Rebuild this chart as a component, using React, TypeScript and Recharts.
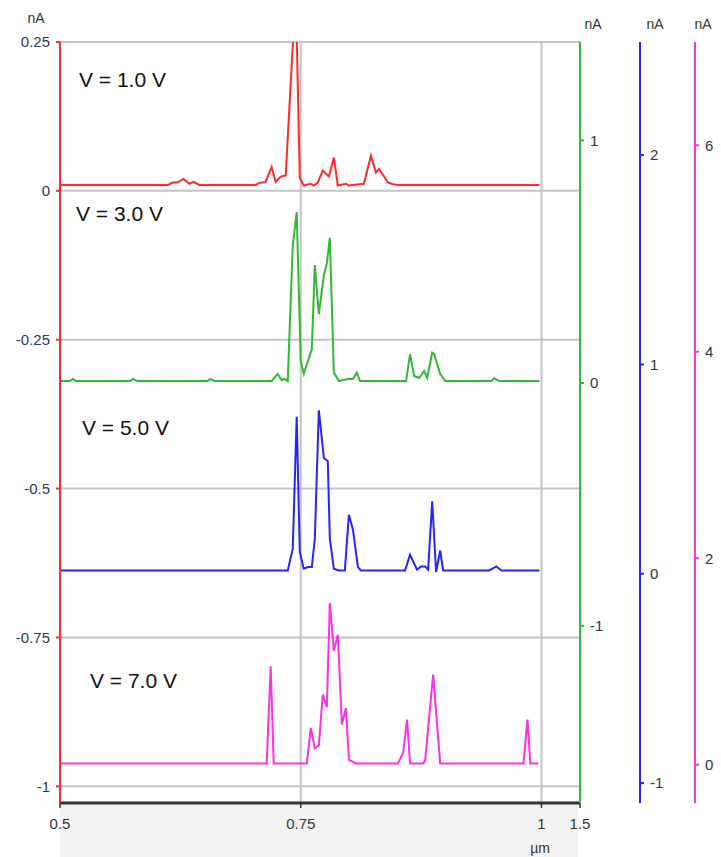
import { LineChart, Line, XAxis, YAxis, CartesianGrid } from "recharts";

// x axis (µm); last tick is the broken-axis end labelled 1.5
const xTicks = [0.5, 0.75, 1, 1.04];
const xTickLabels = ["0.5", "0.75", "1", "1.5"];

const redTicks = [0.25, 0, -0.25, -0.5, -0.75, -1];
const greenTicks = [-1, 0, 1];
const blueTicks = [-1, 0, 1, 2];
const magentaTicks = [0, 2, 4, 6];

const voltageLabels = ["V = 1.0 V", "V = 3.0 V", "V = 5.0 V", "V = 7.0 V"];

// [position µm, current nA]
const red1V: [number, number][] = [
  [0.5, 0.01], [0.6125, 0.01], [0.6167, 0.014], [0.6219, 0.014], [0.6281, 0.02],
  [0.6344, 0.012], [0.6385, 0.015], [0.6448, 0.01], [0.7031, 0.01], [0.7063, 0.013],
  [0.7135, 0.015], [0.7198, 0.04], [0.724, 0.015], [0.7292, 0.024], [0.7344, 0.026],
  [0.7448, 0.337], [0.749, 0.022], [0.7531, 0.009], [0.7604, 0.012], [0.7635, 0.009],
  [0.7677, 0.014], [0.7729, 0.034], [0.7792, 0.024], [0.7844, 0.056], [0.7885, 0.009],
  [0.7969, 0.012], [0.8, 0.009], [0.8156, 0.012], [0.8229, 0.059], [0.8281, 0.031],
  [0.8313, 0.037], [0.8406, 0.014], [0.8458, 0.011], [0.851, 0.01], [0.9979, 0.01],
];

const green3V: [number, number][] = [
  [0.5, 0.008], [0.5104, 0.008], [0.5135, 0.017], [0.5167, 0.008], [0.5729, 0.008],
  [0.576, 0.017], [0.5802, 0.008], [0.6531, 0.008], [0.6563, 0.017], [0.6604, 0.008],
  [0.7198, 0.008], [0.726, 0.038], [0.7302, 0.012], [0.7333, 0.017], [0.7365, 0.008],
  [0.7417, 0.566], [0.7458, 0.704], [0.75, 0.091], [0.7531, 0.038], [0.7615, 0.14],
  [0.7646, 0.486], [0.7688, 0.284], [0.774, 0.445], [0.7771, 0.493], [0.7802, 0.598],
  [0.7844, 0.043], [0.7896, 0.008], [0.799, 0.017], [0.8042, 0.017], [0.8083, 0.043],
  [0.8115, 0.008], [0.8594, 0.008], [0.8635, 0.119], [0.8677, 0.029], [0.8729, 0.021],
  [0.8781, 0.05], [0.8813, 0.021], [0.8865, 0.125], [0.8885, 0.12], [0.8948, 0.038],
  [0.9, 0.008], [0.9479, 0.008], [0.951, 0.02], [0.9563, 0.008], [0.9979, 0.008],
];

const blue5V: [number, number][] = [
  [0.5, 0.016], [0.7365, 0.016], [0.7417, 0.12], [0.7458, 0.75], [0.749, 0.104],
  [0.7531, 0.024], [0.7573, 0.032], [0.7615, 0.032], [0.7646, 0.167], [0.7688, 0.781],
  [0.774, 0.553], [0.7781, 0.537], [0.7802, 0.167], [0.7844, 0.024], [0.7896, 0.016],
  [0.7958, 0.016], [0.8, 0.282], [0.8042, 0.212], [0.8094, 0.032], [0.8125, 0.016],
  [0.8583, 0.016], [0.8635, 0.091], [0.8708, 0.02], [0.875, 0.035], [0.8792, 0.035],
  [0.8823, 0.02], [0.8865, 0.346], [0.8906, 0.008], [0.8948, 0.111], [0.8979, 0.016],
  [0.9458, 0.016], [0.9531, 0.035], [0.9583, 0.016], [0.9979, 0.016],
];

const magenta7V: [number, number][] = [
  [0.5, 0.013], [0.7146, 0.013], [0.7188, 0.953], [0.7219, 0.013], [0.7563, 0.013],
  [0.7604, 0.357], [0.7646, 0.158], [0.7688, 0.19], [0.7729, 0.68], [0.7771, 0.557],
  [0.7802, 1.565], [0.7844, 1.105], [0.7885, 1.259], [0.7927, 0.39], [0.7969, 0.551],
  [0.8, 0.05], [0.8073, 0.013], [0.851, 0.013], [0.8563, 0.116], [0.8604, 0.438],
  [0.8635, 0.013], [0.8771, 0.013], [0.8792, 0.04], [0.8875, 0.873], [0.8948, 0.013],
  [0.9813, 0.013], [0.9854, 0.438], [0.9885, 0.013], [0.9969, 0.013],
];

const toRows = (pts: [number, number][]) => pts.map(([x, y]) => ({ x, y }));

const RED = "#ff2a2a";
const GREEN = "#33b833";
const BLUE = "#2424ff";
const MAGENTA = "#ff30e0";
const FONT = "'Liberation Sans', Arial, sans-serif";

const tickStyle = { fill: "#333", fontSize: 15, fontFamily: FONT };

// right-hand axes stack outward in id order: 1 green, 2 blue, 3 magenta
export default function App() {
  return (
    <div style={{ position: "absolute", left: 0, top: 0, width: 721, height: 857, background: "#fff" }}>
      <div style={{ position: "absolute", left: 60, top: 805, width: 518, height: 52, background: "#f3f3f3" }} />
      <LineChart
        width={721}
        height={857}
        margin={{ top: 42, right: 0, bottom: 0, left: 0 }}
        style={{ position: "absolute", left: 0, top: 0 }}
      >
        <CartesianGrid
          yAxisId={0}
          stroke="#c4c4c4"
          strokeWidth={2}
          horizontalValues={redTicks}
          verticalValues={[0.75, 1]}
        />
        <XAxis
          type="number"
          dataKey="x"
          domain={[0.5, 1.04]}
          ticks={xTicks}
          allowDataOverflow
          tickFormatter={(v: number) => xTickLabels[xTicks.indexOf(v)] ?? String(v)}
          height={54}
          axisLine={{ stroke: "#333", strokeWidth: 3 }}
          tickLine={{ stroke: "#333", strokeWidth: 1.5 }}
          tickSize={5}
          tickMargin={10}
          tick={tickStyle}
        />
        <YAxis
          yAxisId={0}
          orientation="left"
          width={60}
          domain={[-1.028, 0.25]}
          ticks={redTicks}
          allowDataOverflow
          stroke={RED}
          strokeWidth={2}
          tickSize={4}
          tickMargin={6}
          tick={{ ...tickStyle, fill: "#2f3a58" }}
        />
        <YAxis
          yAxisId={1}
          orientation="right"
          width={60}
          domain={[-1.73, 1.405]}
          ticks={greenTicks}
          allowDataOverflow
          stroke={GREEN}
          strokeWidth={2}
          tickSize={4}
          tickMargin={6}
          tick={tickStyle}
        />
        <YAxis
          yAxisId={2}
          orientation="right"
          width={55}
          domain={[-1.095, 2.54]}
          ticks={blueTicks}
          allowDataOverflow
          stroke={BLUE}
          strokeWidth={2}
          tickSize={4}
          tickMargin={6}
          tick={tickStyle}
        />
        <YAxis
          yAxisId={3}
          orientation="right"
          width={26}
          domain={[-0.37, 7.0]}
          ticks={magentaTicks}
          allowDataOverflow
          stroke={MAGENTA}
          strokeWidth={2}
          tickSize={4}
          tickMargin={6}
          tick={tickStyle}
        />
        <Line data={toRows(red1V)} dataKey="y" yAxisId={0} type="linear" stroke={RED} strokeWidth={2} dot={false} isAnimationActive={false} />
        <Line data={toRows(green3V)} dataKey="y" yAxisId={1} type="linear" stroke={GREEN} strokeWidth={2} dot={false} isAnimationActive={false} />
        <Line data={toRows(blue5V)} dataKey="y" yAxisId={2} type="linear" stroke={BLUE} strokeWidth={2} dot={false} isAnimationActive={false} />
        <Line data={toRows(magenta7V)} dataKey="y" yAxisId={3} type="linear" stroke={MAGENTA} strokeWidth={2} dot={false} isAnimationActive={false} />
      </LineChart>
      <svg width={721} height={857} style={{ position: "absolute", left: 0, top: 0, pointerEvents: "none" }}>
        <g fontFamily={FONT} fontSize={14} fill="#333" textAnchor="middle">
          <text x={36} y={23}>nA</text>
          <text x={593} y={29}>nA</text>
          <text x={655} y={29}>nA</text>
          <text x={703} y={29}>nA</text>
          <text x={540} y={853}>µm</text>
        </g>
        <g fontFamily={FONT} fontSize={21} fill="#111">
          <text x={79} y={87}>{voltageLabels[0]}</text>
          <text x={76} y={221}>{voltageLabels[1]}</text>
          <text x={82} y={435}>{voltageLabels[2]}</text>
          <text x={90} y={688}>{voltageLabels[3]}</text>
        </g>
      </svg>
    </div>
  );
}
